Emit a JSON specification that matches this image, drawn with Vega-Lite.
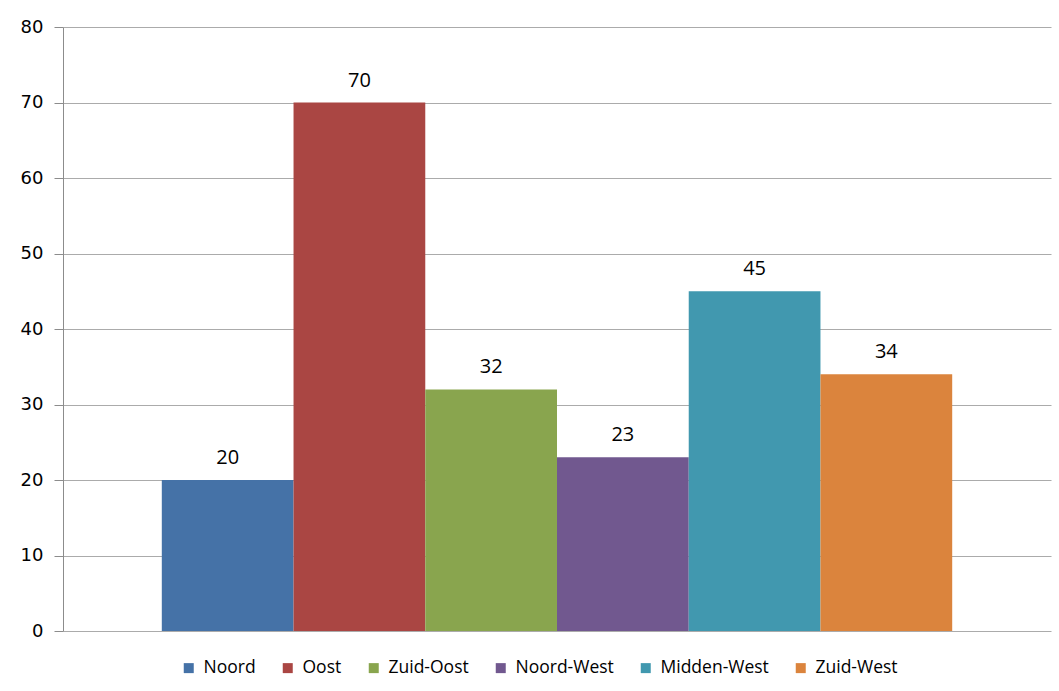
{
  "$schema": "https://vega.github.io/schema/vega-lite/v6.json",
  "width": 988,
  "height": 604,
  "autosize": "none",
  "padding": {"left": 63, "top": 27, "right": 8, "bottom": 60},
  "background": "white",
  "config": {"view": {"stroke": null}},
  "data": {
    "values": [
      {"region": "Noord", "value": 20},
      {"region": "Oost", "value": 70},
      {"region": "Zuid-Oost", "value": 32},
      {"region": "Noord-West", "value": 23},
      {"region": "Midden-West", "value": 45},
      {"region": "Zuid-West", "value": 34}
    ]
  },
  "encoding": {
    "x": {
      "field": "region",
      "type": "nominal",
      "sort": null,
      "scale": {"paddingInner": 0, "paddingOuter": 0.75},
      "axis": null
    },
    "y": {
      "field": "value",
      "type": "quantitative",
      "scale": {"domain": [0, 80], "nice": false},
      "axis": {
        "title": null,
        "values": [0, 10, 20, 30, 40, 50, 60, 70, 80],
        "grid": true,
        "gridColor": "#ababab",
        "gridWidth": 1,
        "domainColor": "#8c8c8c",
        "tickColor": "#8c8c8c",
        "tickSize": 9,
        "labelFont": "DejaVu Sans",
        "labelFontSize": 18,
        "labelColor": "#000000",
        "labelPadding": 11
      }
    }
  },
  "layer": [
    {
      "mark": {"type": "bar"},
      "encoding": {
        "color": {
          "field": "region",
          "type": "nominal",
          "sort": null,
          "scale": {
            "domain": ["Noord", "Oost", "Zuid-Oost", "Noord-West", "Midden-West", "Zuid-West"],
            "range": ["#4572A7", "#AA4643", "#89A54E", "#71588F", "#4198AF", "#DB843D"]
          },
          "legend": {
            "title": null,
            "orient": "none",
            "direction": "horizontal",
            "legendX": 117,
            "legendY": 632,
            "symbolType": "square",
            "symbolSize": 100,
            "symbolStrokeWidth": 0,
            "symbolOpacity": 1,
            "labelFont": "Open Sans",
            "labelFontSize": 17.5,
            "labelColor": "#000000",
            "labelOffset": 6,
            "columnPadding": 23
          }
        }
      }
    },
    {
      "mark": {
        "type": "text",
        "baseline": "bottom",
        "dy": -12,
        "font": "Open Sans",
        "fontSize": 20,
        "color": "#000000"
      },
      "encoding": {"text": {"field": "value", "type": "quantitative"}}
    }
  ]
}
